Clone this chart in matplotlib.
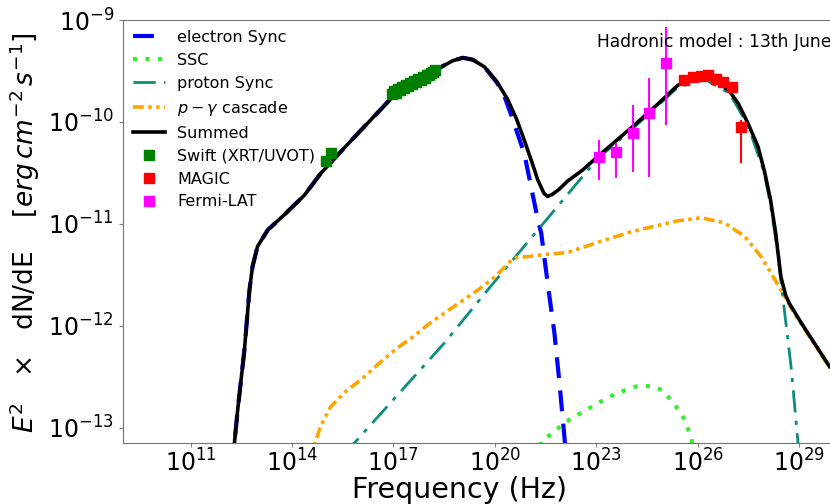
import numpy as np
import matplotlib.pyplot as plt
from matplotlib.ticker import LogFormatterSciNotation, NullLocator

# model curves, stored as (log10 nu [Hz], log10 E^2 dN/dE [erg cm^-2 s^-1])
sum_lognu = [12.22, 12.40, 12.59, 12.74, 12.83, 12.98, 13.28, 13.77, 14.36, 14.86,
             15.50, 16.24, 16.93, 17.60, 18.36, 18.75, 19.05, 19.35, 19.69, 20.05,
             20.38, 20.65, 20.87, 21.10, 21.27, 21.45, 21.56, 21.70, 21.90, 22.15,
             22.60, 23.04, 23.60, 24.13, 24.80, 25.41, 25.80, 26.20, 26.60, 26.94,
             27.20, 27.48, 27.78, 27.97, 28.15, 28.30, 28.46, 28.60, 28.71, 29.06,
             29.45, 29.90]
sum_logf = [-13.40, -12.80, -12.24, -11.65, -11.42, -11.22, -11.06, -10.91, -10.72, -10.50,
            -10.27, -10.01, -9.77, -9.62, -9.47, -9.40, -9.37, -9.39, -9.46, -9.60,
            -9.78, -9.98, -10.18, -10.40, -10.57, -10.70, -10.73, -10.71, -10.66, -10.58,
            -10.47, -10.34, -10.18, -10.03, -9.83, -9.64, -9.58, -9.56, -9.60, -9.70,
            -9.82, -10.01, -10.24, -10.48, -10.76, -11.08, -11.52, -11.70, -11.78, -11.97,
            -12.17, -12.40]

esync_lognu = [12.22, 12.40, 12.59, 12.74, 12.83, 12.98, 13.28, 13.77, 14.36, 14.86,
               15.50, 16.24, 16.93, 17.60, 18.36, 18.75, 19.05, 19.35, 19.69, 20.05,
               20.25, 20.48, 20.87, 21.27, 21.37, 21.56, 21.76, 21.91, 22.10]
esync_logf = [-13.40, -12.80, -12.24, -11.65, -11.42, -11.22, -11.06, -10.91, -10.72, -10.50,
              -10.27, -10.01, -9.77, -9.62, -9.47, -9.40, -9.37, -9.39, -9.46, -9.61,
              -9.72, -9.93, -10.31, -10.96, -11.09, -11.58, -12.07, -12.56, -13.25]

ssc_lognu = [21.30, 21.37, 21.76, 22.05, 23.04, 23.60, 24.22, 24.62, 24.95, 25.21,
             25.45, 25.61, 25.81, 25.90]
ssc_logf = [-13.30, -13.13, -13.04, -12.95, -12.76, -12.66, -12.59, -12.59, -12.63, -12.73,
            -12.83, -12.92, -13.10, -13.30]

psync_lognu = [15.70, 15.84, 18.50, 19.88, 21.27, 22.15, 23.04, 24.13, 25.41, 26.20,
               26.94, 27.48, 27.97, 28.17, 28.35, 28.56, 28.76, 28.98]
psync_logf = [-13.30, -13.15, -12.17, -11.61, -11.06, -10.71, -10.36, -10.05, -9.66, -9.58,
              -9.72, -10.03, -10.50, -10.85, -11.25, -11.84, -12.40, -13.20]

casc_lognu = [14.60, 14.68, 14.85, 15.15, 15.60, 16.14, 16.53, 17.10, 17.61, 18.01,
              18.70, 19.49, 20.00, 20.30, 20.50, 20.65, 21.00, 21.46, 22.15, 23.14,
              24.00, 24.62, 25.40, 26.10, 26.79, 27.38, 27.87, 28.20, 28.46, 28.86,
              29.06, 29.45, 29.90]
casc_logf = [-13.40, -13.15, -12.98, -12.79, -12.64, -12.50, -12.38, -12.22, -12.10, -11.99,
             -11.83, -11.65, -11.52, -11.42, -11.35, -11.33, -11.32, -11.30, -11.28, -11.17,
             -11.08, -11.03, -10.97, -10.94, -10.99, -11.12, -11.32, -11.50, -11.65, -11.88,
             -11.98, -12.18, -12.41]

# observations
swift_lognu = [14.99, 15.14, 16.96, 17.02, 17.08, 17.14, 17.20, 17.26, 17.32, 17.38,
               17.44, 17.50, 17.56, 17.62, 17.68, 17.74, 17.80, 17.86, 17.92, 17.98,
               18.04, 18.10, 18.16, 18.22]
swift_logf = [-10.38, -10.30, -9.73, -9.70, -9.72, -9.68, -9.69, -9.66, -9.67, -9.64,
              -9.65, -9.62, -9.63, -9.60, -9.61, -9.58, -9.59, -9.56, -9.57, -9.54,
              -9.54, -9.52, -9.51, -9.49]

magic_lognu = [25.60, 25.85, 26.10, 26.30, 26.55, 26.75, 27.00, 27.28]
magic_logf = [-9.59, -9.56, -9.55, -9.54, -9.58, -9.61, -9.66, -10.05]
magic_lo = [-9.63, -9.60, -9.59, -9.58, -9.62, -9.65, -9.71, -10.40]
magic_hi = [-9.55, -9.52, -9.51, -9.50, -9.54, -9.57, -9.61, -9.98]

fermi_lognu = [23.09, 23.58, 24.08, 24.57, 25.06]
fermi_logf = [-10.34, -10.29, -10.11, -9.915, -9.425]
fermi_lo = [-10.57, -10.55, -10.49, -10.54, -10.03]
fermi_hi = [-10.18, -10.21, -9.83, -9.57, -9.07]

xtick_exp = [11, 14, 17, 20, 23, 26, 29]
ytick_exp = [-13, -12, -11, -10, -9]


def lin(a):
    return 10.0 ** np.asarray(a)


def errs(logf, lo, hi):
    f = lin(logf)
    return [f - lin(lo), lin(hi) - f]


fig = plt.figure(figsize=(8.3, 5.04), dpi=100)
ax = fig.add_axes([123 / 830, 61 / 504, 710 / 830, 423 / 504])

ax.plot(lin(esync_lognu), lin(esync_logf), color='blue', ls=(0, (5, 3)), lw=3, label='electron Sync')
ax.plot(lin(ssc_lognu), lin(ssc_logf), color='#33ee33', ls=(0, (1, 2)), lw=3, label='SSC')
ax.plot(lin(psync_lognu), lin(psync_logf), color='#0b8f7c', ls=(0, (8, 3, 1.5, 3)), lw=2, label='proton Sync')
ax.plot(lin(casc_lognu), lin(casc_logf), color='orange', ls=(0, (3, 1.2, 1, 1.2, 1, 1.2)), lw=2.6,
        label=r'$p-\gamma$ cascade')
ax.plot(lin(sum_lognu), lin(sum_logf), color='black', lw=2.6, label='Summed')

# data points: error bars first, then the square markers carrying the legend entries
ax.errorbar(lin(magic_lognu), lin(magic_logf), yerr=errs(magic_logf, magic_lo, magic_hi),
            fmt='none', ecolor='red', elinewidth=1.5)
ax.errorbar(lin(fermi_lognu), lin(fermi_logf), yerr=errs(fermi_logf, fermi_lo, fermi_hi),
            fmt='none', ecolor='magenta', elinewidth=1.5)
ax.plot(lin(swift_lognu), lin(swift_logf), 's', color='green', ms=7.5, ls='none', label='Swift (XRT/UVOT)')
ax.plot(lin(magic_lognu), lin(magic_logf), 's', color='red', ms=7.5, ls='none', label='MAGIC')
ax.plot(lin(fermi_lognu), lin(fermi_logf), 's', color='magenta', ms=7.5, ls='none', label='Fermi-LAT')

ax.set_xscale('log')
ax.set_yscale('log')
ax.set_xlim(1e9, 1e30)
ax.set_ylim(7.1e-14, 1e-9)
ax.set_xticks([10.0 ** e for e in xtick_exp])
ax.set_yticks([10.0 ** e for e in ytick_exp])
ax.xaxis.set_major_formatter(LogFormatterSciNotation())
ax.yaxis.set_major_formatter(LogFormatterSciNotation())
ax.xaxis.set_minor_locator(NullLocator())
ax.yaxis.set_minor_locator(NullLocator())
ax.tick_params(labelsize=17, length=3, color='0.5')
ax.tick_params(axis='x', pad=1.5)
for sp in ax.spines.values():
    sp.set_color('0.45')

ax.set_xlabel('Frequency (Hz)', fontsize=20.5)
ax.xaxis.set_label_coords((459 - 123) / 710, -0.077)
ax.set_ylabel(r'$E^2$   $\times$   dN/dE    [$erg\,cm^{-2}\,s^{-1}$]', fontsize=19)
ax.yaxis.set_label_coords(-0.114, 0.497)

fig.text(597 / 830, 1 - 42 / 504, 'Hadronic model : 13th June', fontsize=12.3, ha='left', va='center')

ax.legend(loc='upper left', bbox_to_anchor=(0, 1), frameon=False, fontsize=11.5,
          borderaxespad=0.2, handlelength=2.0)

fig.savefig('out.png', dpi=100)
